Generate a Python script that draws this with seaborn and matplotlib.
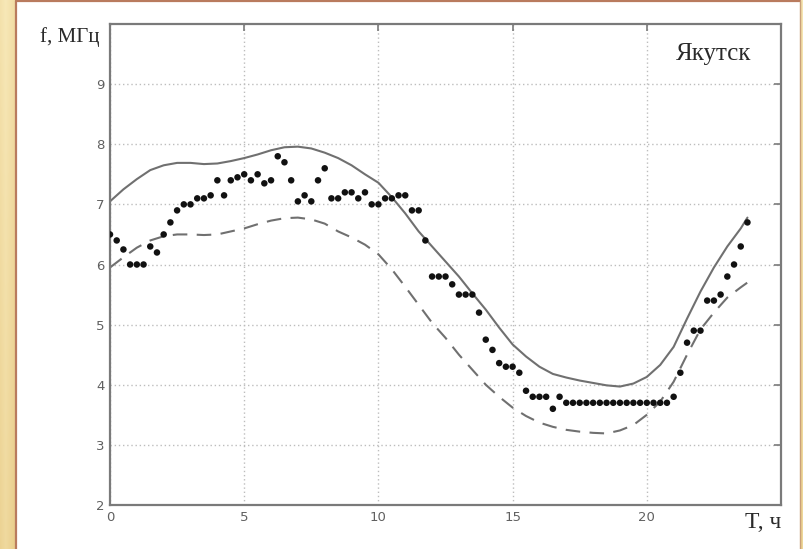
import numpy as np
import pandas as pd
import matplotlib
matplotlib.use("Agg")
import matplotlib.pyplot as plt
import seaborn as sns

# observed critical frequency, 15-min cadence
obs_t = np.arange(0, 24, 0.25)
obs_f = [
    6.5, 6.4, 6.25, 6.0, 6.0, 6.0, 6.3, 6.2, 6.5, 6.7, 6.9, 7.0,
    7.0, 7.1, 7.1, 7.15, 7.4, 7.15, 7.4, 7.45, 7.5, 7.4, 7.5, 7.35,
    7.4, 7.8, 7.7, 7.4, 7.05, 7.15, 7.05, 7.4, 7.6, 7.1, 7.1, 7.2,
    7.2, 7.1, 7.2, 7.0, 7.0, 7.1, 7.1, 7.15, 7.15, 6.9, 6.9, 6.4,
    5.8, 5.8, 5.8, 5.67, 5.5, 5.5, 5.5, 5.2, 4.75, 4.58, 4.36, 4.3,
    4.3, 4.2, 3.9, 3.8, 3.8, 3.8, 3.6, 3.8, 3.7, 3.7, 3.7, 3.7,
    3.7, 3.7, 3.7, 3.7, 3.7, 3.7, 3.7, 3.7, 3.7, 3.7, 3.7, 3.7,
    3.8, 4.2, 4.7, 4.9, 4.9, 5.4, 5.4, 5.5, 5.8, 6.0, 6.3, 6.7,
]

# model curves
model_t = [0, 0.5, 1, 1.5, 2, 2.5, 3, 3.5, 4, 4.5, 5, 5.5, 6, 6.5, 7, 7.5,
           8, 8.5, 9, 9.5, 10, 10.5, 11, 11.5, 12, 12.5, 13, 13.5, 14, 14.5,
           15, 15.5, 16, 16.5, 17, 17.5, 18, 18.5, 19, 19.5, 20, 20.5, 21,
           21.5, 22, 22.5, 23, 23.5, 23.75]
upper_f = [7.05, 7.25, 7.42, 7.57, 7.65, 7.69, 7.69, 7.67, 7.68, 7.72, 7.77,
           7.83, 7.9, 7.95, 7.96, 7.93, 7.86, 7.77, 7.65, 7.5, 7.36, 7.12,
           6.85, 6.55, 6.3, 6.05, 5.8, 5.52, 5.25, 4.95, 4.67, 4.47, 4.3,
           4.18, 4.12, 4.07, 4.03, 3.99, 3.97, 4.02, 4.13, 4.33, 4.63, 5.1,
           5.55, 5.95, 6.3, 6.6, 6.78]
lower_f = [5.95, 6.12, 6.28, 6.4, 6.47, 6.5, 6.5, 6.49, 6.5, 6.55, 6.6,
           6.67, 6.73, 6.77, 6.78, 6.75, 6.68, 6.55, 6.45, 6.33, 6.17, 5.92,
           5.63, 5.33, 5.03, 4.78, 4.5, 4.25, 4.0, 3.8, 3.62, 3.48, 3.37,
           3.3, 3.25, 3.22, 3.2, 3.19, 3.24, 3.33, 3.5, 3.72, 4.05, 4.5,
           4.92, 5.2, 5.45, 5.62, 5.7]

x_ticks = [0, 5, 10, 15, 20]
y_ticks = [2, 3, 4, 5, 6, 7, 8, 9]

sns.set_style("white")
plt.rcParams["font.family"] = ["DejaVu Sans"]

fig = plt.figure(figsize=(8.04, 5.49), dpi=100)
fig.patch.set_facecolor("white")

# slide frame: gold strip on the left, thin brown borders
bg = fig.add_axes([0, 0, 1, 1], zorder=-5)
bg.set_xlim(0, 804)
bg.set_ylim(549, 0)
bg.axis("off")
xs = np.linspace(0, 1, 16)
ys = np.linspace(0, 1, 200)
light = np.array([0.97, 0.91, 0.72])
dark = np.array([0.90, 0.78, 0.50])
w = 0.55 * np.abs(xs[None, :] - 0.35) + 0.45 * ys[:, None]
grad = light[None, None, :] * (1 - w[..., None]) + dark[None, None, :] * w[..., None]
bg.imshow(grad, extent=(0, 16, 549, 0), aspect="auto")
bg.imshow(grad[:, ::-1], extent=(801, 804, 549, 0), aspect="auto")
bg.plot([16.5, 16.5], [1, 549], color="#b97b5e", lw=1.6)
bg.plot([16.5, 800.5], [1.2, 1.2], color="#b97b5e", lw=1.6)
bg.plot([800.5, 800.5], [1, 549], color="#c9a07a", lw=1.0)

ax = fig.add_axes([110 / 804, 1 - 505 / 549, 671 / 804, 481 / 549])
ax.set_facecolor("white")

sns.lineplot(x=model_t, y=upper_f, ax=ax, color="#707070", lw=1.5,
             estimator=None, sort=False)
sns.lineplot(x=model_t, y=lower_f, ax=ax, color="#707070", lw=1.5,
             estimator=None, sort=False, linestyle=(0, (7, 4.5)))
sns.scatterplot(x=obs_t, y=obs_f, ax=ax, color="#111111", s=22,
                edgecolor="none", zorder=3)

ax.set_xlim(0, 25)
ax.set_ylim(2, 10)
ax.set_xticks(x_ticks)
ax.set_yticks(y_ticks)
ax.set_xlabel("")
ax.set_ylabel("")
ax.grid(True, color="#bdbdbd", linestyle=(0, (1, 2)), lw=1.0)
for s in ax.spines.values():
    s.set_visible(True)
    s.set_color("#7a7a7a")
    s.set_linewidth(1.6)
ax.tick_params(direction="in", length=5, width=1.2, color="#7a7a7a",
               top=True, right=True, labelsize=9.5, labelcolor="#606060")
ax.tick_params(axis="x", pad=4)
ax.tick_params(axis="y", pad=4)

serif = ["Liberation Serif", "DejaVu Serif"]
ax.text(-0.015, 0.972, "f, МГц", transform=ax.transAxes, ha="right",
        va="center", fontsize=15, family=serif, color="#2a2a2a")
ax.text(0.899, 0.937, "Якутск", transform=ax.transAxes, ha="center",
        va="center", fontsize=18, family=serif, color="#2a2a2a")
ax.text(1.0, -0.036, "T, ч", transform=ax.transAxes, ha="right",
        va="center", fontsize=17, family=serif, color="#2a2a2a")

fig.savefig("out.png", dpi=100)
